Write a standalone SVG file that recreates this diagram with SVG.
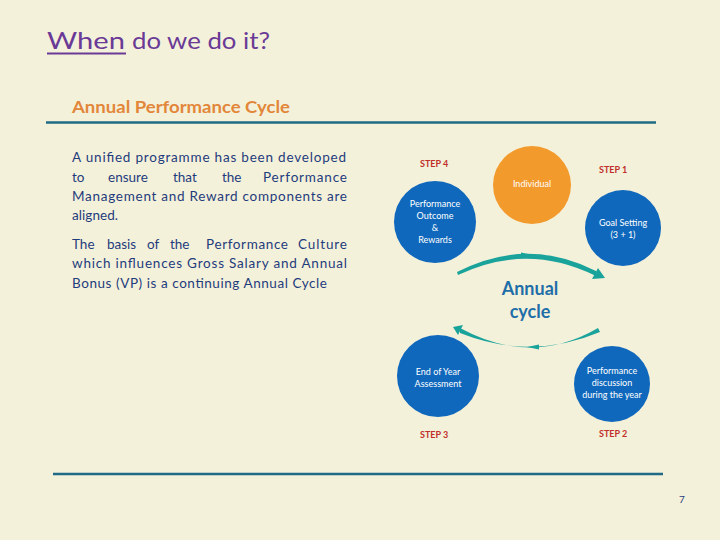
<svg xmlns="http://www.w3.org/2000/svg" width="720" height="540" viewBox="0 0 720 540">
<style>
.title{font-family:Lato,"Open Sans","Liberation Sans",sans-serif;font-size:24px;fill:#6A3A96}
.head{font-family:Lato,"Open Sans","Liberation Sans",sans-serif;font-size:17px;font-weight:bold;fill:#E2873A}
.body{font-family:Lato,"Open Sans","Liberation Sans",sans-serif;font-size:13.5px;fill:#1F3C7C}
.node{font-family:Lato,"Open Sans","Liberation Sans",sans-serif;font-size:9px;fill:#FFFFFF;text-anchor:middle}
.step{font-family:Lato,"Open Sans","Liberation Sans",sans-serif;font-size:9px;font-weight:bold;fill:#C0302A}
.cyc{font-family:Lato,"Open Sans","Liberation Sans",sans-serif;font-size:18px;font-weight:bold;fill:#1F6EA8;text-anchor:middle}
.blue{fill:#0F68BC}
.arc{fill:#1AA39A}
.rule{stroke:#1F6A84;stroke-width:2.5}
</style>
<rect width="720" height="540" fill="#F4F1DB"/>
<g id="title">
<text class="title" x="47" y="49" textLength="78" lengthAdjust="spacingAndGlyphs">When</text>
<line x1="47" y1="53.5" x2="126" y2="53.5" stroke="#6A3A96" stroke-width="2"/>
<text class="title" x="132" y="49" textLength="138" lengthAdjust="spacingAndGlyphs">do we do it?</text>
</g>
<g id="heading">
<text class="head" x="72" y="113" textLength="218" lengthAdjust="spacingAndGlyphs">Annual Performance Cycle</text>
<line class="rule" x1="46" y1="122.5" x2="656" y2="122.5"/>
</g>
<g id="body-text">
<text class="body" x="72" y="162" textLength="274" lengthAdjust="spacing">A unified programme has been developed</text>
<text class="body" y="182"><tspan x="72">to</tspan><tspan x="108">ensure</tspan><tspan x="173">that</tspan><tspan x="222">the</tspan><tspan x="263" textLength="84" lengthAdjust="spacing">Performance</tspan></text>
<text class="body" x="72" y="201" textLength="275" lengthAdjust="spacing">Management and Reward components are</text>
<text class="body" x="72" y="220" textLength="46" lengthAdjust="spacing">aligned.</text>
<text class="body" y="249"><tspan x="72">The</tspan><tspan x="107">basis</tspan><tspan x="147">of</tspan><tspan x="170">the</tspan><tspan x="206" textLength="82" lengthAdjust="spacing">Performance</tspan><tspan x="298" textLength="49" lengthAdjust="spacing">Culture</tspan></text>
<text class="body" x="72" y="268" textLength="275" lengthAdjust="spacing">which influences Gross Salary and Annual</text>
<text class="body" x="72" y="288" textLength="255" lengthAdjust="spacing">Bonus (VP) is a continuing Annual Cycle</text>
</g>
<g id="connectors">
<path class="arc" d="M457,272 Q527,236 596,271 L596,276 Q527,242 458,275 Z"/>
<polygon class="arc" points="605,278 592,279 598,268"/>
<polygon class="arc" points="533,255 521,252.5 521,257"/>
<path class="arc" d="M460,328 Q531,367 598,328 L600,332 Q531,361 460,333 Z"/>
<polygon class="arc" points="453,327 463,325 458,335"/>
<polygon class="arc" points="527,347 539,344.5 539,349.5"/>
</g>
<g id="node-individual">
<circle cx="532" cy="185" r="39" fill="#F39A2C"/>
<text class="node" x="532" y="187">Individual</text>
</g>
<g id="node-step4">
<text class="step" x="420" y="167">STEP 4</text>
<circle class="blue" cx="435" cy="222" r="41"/>
<text class="node" x="435" y="207">Performance</text>
<text class="node" x="435" y="219">Outcome</text>
<text class="node" x="435" y="231">&amp;</text>
<text class="node" x="435" y="243">Rewards</text>
</g>
<g id="node-step1">
<text class="step" x="599" y="173">STEP 1</text>
<circle class="blue" cx="623" cy="228" r="38"/>
<text class="node" x="623" y="226">Goal Setting</text>
<text class="node" x="623" y="238">(3 + 1)</text>
</g>
<g id="node-step3">
<circle class="blue" cx="438" cy="376" r="41"/>
<text class="node" x="438" y="375">End of Year</text>
<text class="node" x="438" y="387">Assessment</text>
<text class="step" x="420" y="438">STEP 3</text>
</g>
<g id="node-step2">
<circle class="blue" cx="612" cy="384" r="38"/>
<text class="node" x="612" y="374">Performance</text>
<text class="node" x="612" y="386">discussion</text>
<text class="node" x="612" y="398">during the year</text>
<text class="step" x="599" y="437">STEP 2</text>
</g>
<g id="center-label">
<text class="cyc" x="530" y="295">Annual</text>
<text class="cyc" x="530" y="318">cycle</text>
</g>
<g id="footer">
<line class="rule" x1="53" y1="474" x2="663" y2="474"/>
<text x="682" y="503" style="font-family:Lato,'Liberation Sans',sans-serif;font-size:10px;fill:#1F3C7C;text-anchor:middle">7</text>
</g>
</svg>
